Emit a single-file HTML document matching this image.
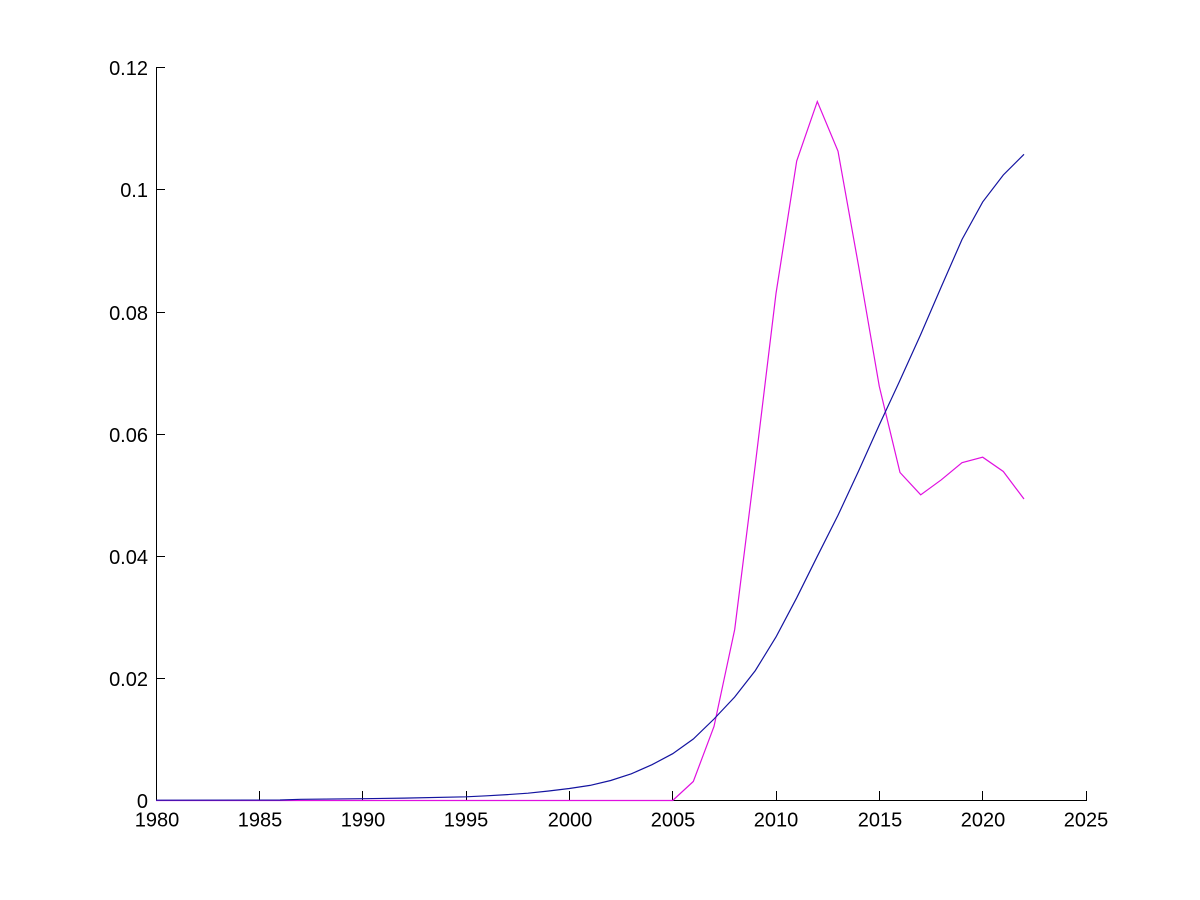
<!DOCTYPE html>
<html>
<head>
<meta charset="utf-8">
<style>
  html, body { margin:0; padding:0; background:#ffffff; }
  svg { display:block; }
  text { font-family: "Liberation Sans", Arial, sans-serif; font-size:20px; fill:#000; }
</style>
</head>
<body>
<svg width="1200" height="900" viewBox="0 0 1200 900" xmlns="http://www.w3.org/2000/svg">
  <rect x="0" y="0" width="1200" height="900" fill="#ffffff"/>

  <!-- axes -->
  <g stroke="#000" stroke-width="1" fill="none" shape-rendering="crispEdges">
    <line x1="156.5" y1="67.5" x2="156.5" y2="801"/>
    <line x1="156" y1="800.5" x2="1087" y2="800.5"/>
    <!-- y ticks -->
    <line x1="156" y1="678.5" x2="165" y2="678.5"/>
    <line x1="156" y1="556.5" x2="165" y2="556.5"/>
    <line x1="156" y1="434.5" x2="165" y2="434.5"/>
    <line x1="156" y1="312.5" x2="165" y2="312.5"/>
    <line x1="156" y1="189.5" x2="165" y2="189.5"/>
    <line x1="156" y1="67.5" x2="165" y2="67.5"/>
    <!-- x ticks -->
    <line x1="259.5" y1="791" x2="259.5" y2="801"/>
    <line x1="362.5" y1="791" x2="362.5" y2="801"/>
    <line x1="466.5" y1="791" x2="466.5" y2="801"/>
    <line x1="569.5" y1="791" x2="569.5" y2="801"/>
    <line x1="672.5" y1="791" x2="672.5" y2="801"/>
    <line x1="776.5" y1="791" x2="776.5" y2="801"/>
    <line x1="879.5" y1="791" x2="879.5" y2="801"/>
    <line x1="982.5" y1="791" x2="982.5" y2="801"/>
    <line x1="1086.5" y1="791" x2="1086.5" y2="801"/>
  </g>

  <!-- y labels -->
  <g text-anchor="end">
    <text x="148" y="808">0</text>
    <text x="148" y="686">0.02</text>
    <text x="148" y="564">0.04</text>
    <text x="148" y="442">0.06</text>
    <text x="148" y="320">0.08</text>
    <text x="148" y="197">0.1</text>
    <text x="148" y="75">0.12</text>
  </g>

  <!-- x labels -->
  <g text-anchor="middle">
    <text x="157" y="826.5">1980</text>
    <text x="260" y="826.5">1985</text>
    <text x="363" y="826.5">1990</text>
    <text x="466" y="826.5">1995</text>
    <text x="570" y="826.5">2000</text>
    <text x="673" y="826.5">2005</text>
    <text x="776" y="826.5">2010</text>
    <text x="880" y="826.5">2015</text>
    <text x="983" y="826.5">2020</text>
    <text x="1086" y="826.5">2025</text>
  </g>

  <!-- magenta series -->
  <polyline fill="none" stroke="#e010e0" stroke-width="1.2" stroke-linejoin="miter"
    points="156,800.5 672.7,800.5 693.3,781.5 714,726.5 734.7,629.5 755.3,464.6 776,293.5 796.7,161 817.3,101.5 838,151.2 858.7,266.7 879.3,386.4 900,472.5 920.7,494.8 941.3,479.8 962,462.7 982.7,457.2 1003.3,471.5 1024,499"/>

  <!-- blue series -->
  <polyline fill="none" stroke="#1414a0" stroke-width="1.2" stroke-linejoin="miter"
    points="156,800.2 280,800 300.7,799.3 362.7,798.7 404,798.1 466,796.8 486.7,795.8 507.3,794.6 528,793.2 548.7,791 569.3,788.5 590,785.4 610.7,780.5 631.3,773.8 652,764.7 672.7,753.7 693.3,739 714,719 734.7,697 755.3,670.6 776,637 796.7,597.8 817.3,556.3 838,515.3 858.7,470.7 879.3,424.9 900,380.3 920.7,334.5 941.3,286.8 962,239.5 982.7,201.9 1003.3,175 1024,154.3"/>
</svg>
</body>
</html>
